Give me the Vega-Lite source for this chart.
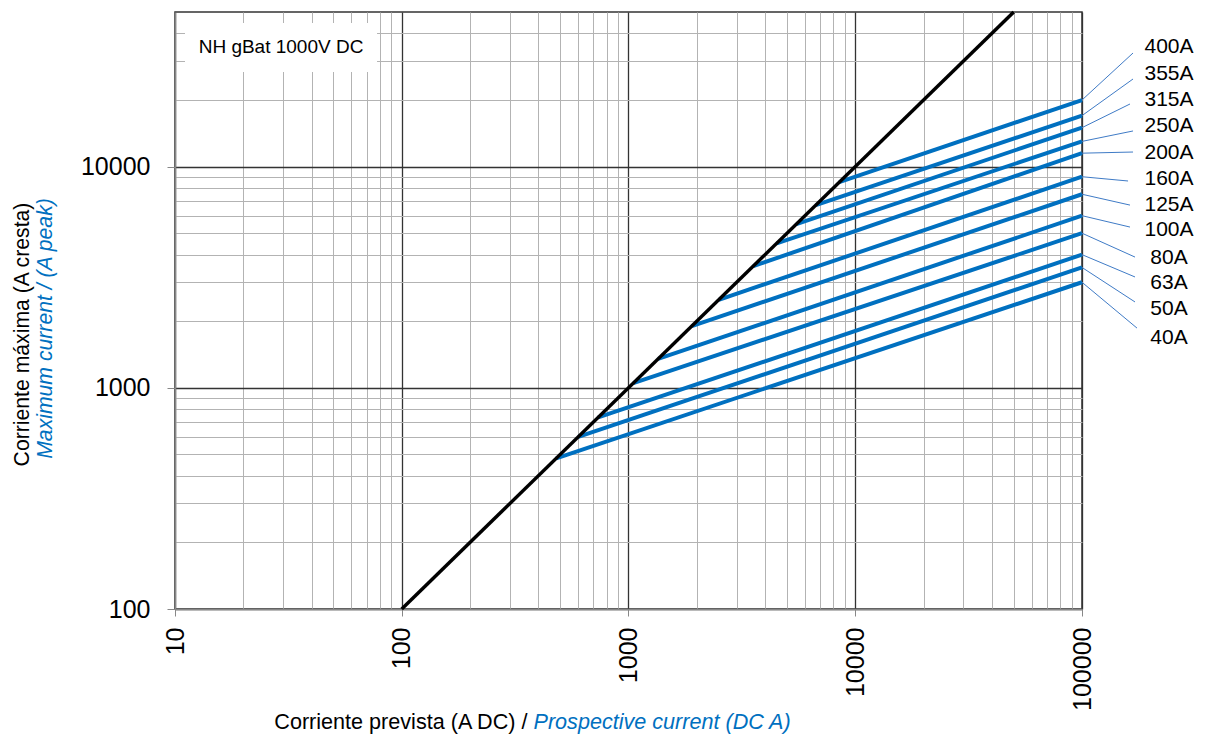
{
  "$schema": "https://vega.github.io/schema/vega-lite/v6.json",
  "width": 907,
  "height": 597,
  "autosize": "none",
  "padding": {"left": 175, "top": 12, "right": 123, "bottom": 127},
  "config": {
    "font": "Liberation Sans",
    "view": {"stroke": "#333333", "strokeWidth": 1.5},
    "axis": {"labelFont": "Liberation Sans", "titleFont": "Liberation Sans"}
  },
  "datasets": {
    "fuses": [
      {"fuse": "400A", "x1": 8500, "x2": 100000, "y2": 20000, "lx": 167900, "ly": 32620, "tx": 241900, "ty": 34720},
      {"fuse": "355A", "x1": 6700, "x2": 100000, "y2": 17000, "lx": 167900, "ly": 24890, "tx": 241900, "ty": 26220},
      {"fuse": "315A", "x1": 5500, "x2": 100000, "y2": 15000, "lx": 162800, "ly": 19190, "tx": 241900, "ty": 20000},
      {"fuse": "250A", "x1": 4500, "x2": 100000, "y2": 13000, "lx": 167900, "ly": 14490, "tx": 241900, "ty": 15260},
      {"fuse": "200A", "x1": 3550, "x2": 100000, "y2": 11500, "lx": 167900, "ly": 11640, "tx": 241900, "ty": 11520},
      {"fuse": "160A", "x1": 2500, "x2": 100000, "y2": 9000, "lx": 159600, "ly": 8610, "tx": 241900, "ty": 8790},
      {"fuse": "125A", "x1": 1900, "x2": 100000, "y2": 7500, "lx": 162800, "ly": 6700, "tx": 241900, "ty": 6700},
      {"fuse": "100A", "x1": 1350, "x2": 100000, "y2": 6000, "lx": 162800, "ly": 5330, "tx": 241900, "ty": 5170},
      {"fuse": "80A", "x1": 1050, "x2": 100000, "y2": 5000, "lx": 171300, "ly": 3900, "tx": 241900, "ty": 3863},
      {"fuse": "63A", "x1": 735, "x2": 100000, "y2": 4000, "lx": 171300, "ly": 3170, "tx": 241900, "ty": 2977},
      {"fuse": "50A", "x1": 600, "x2": 100000, "y2": 3500, "lx": 171300, "ly": 2444, "tx": 241900, "ty": 2271},
      {"fuse": "40A", "x1": 480, "x2": 100000, "y2": 3000, "lx": 174800, "ly": 1862, "tx": 241900, "ty": 1680}
    ],
    "box": [
      {"label": "NH gBat 1000V DC", "bx1": 11.07, "bx2": 77.8, "by1": 26780, "by2": 44600, "tx": 29.35, "ty": 34560}
    ],
    "diag": [
      {"x": 100, "y": 100, "x2": 50000, "y2": 50000}
    ]
  },
  "layer": [
    {
      "layer": [
        {
          "data": {"name": "box"},
          "mark": {"type": "rect", "fill": "white", "stroke": null},
          "encoding": {
            "x": {"field": "bx1", "type": "quantitative", "scale": {"type": "log", "domain": [10, 100000], "nice": false},
              "axis": {
                "orient": "bottom",
                "values": [10,20,30,40,50,60,70,80,90,100,200,300,400,500,600,700,800,900,1000,2000,3000,4000,5000,6000,7000,8000,9000,10000,20000,30000,40000,50000,60000,70000,80000,90000,100000],
                "format": "d",
                "labelExpr": "indexof([10,100,1000,10000,100000], datum.value) >= 0 ? datum.label : ''",
                "labelAngle": 270,
                "labelAlign": "right",
                "labelBaseline": "middle",
                "labelFontSize": 25,
                "labelColor": "#000000",
                "labelPadding": 11,
                "labelOverlap": false,
                "labelFlush": false,
                "labelBound": false,
                "grid": true,
                "gridColor": {"condition": {"test": "indexof([10,100,1000,10000,100000], datum.value) >= 0", "value": "#333333"}, "value": "#b3b3b3"},
                "gridWidth": {"condition": {"test": "indexof([10,100,1000,10000,100000], datum.value) >= 0", "value": 1.3}, "value": 1},
                "ticks": true,
                "tickSize": 7,
                "tickColor": "#888888",
                "tickOpacity": {"condition": {"test": "indexof([10,100,1000,10000,100000], datum.value) >= 0", "value": 1}, "value": 0},
                "domain": true,
                "domainColor": "#888888",
                "domainWidth": 1.5,
                "title": "Corriente prevista (A DC) /",
                "titleFontSize": 21.6,
                "titleFontWeight": "normal",
                "titleColor": "#000000",
                "titleAlign": "right",
                "titleAnchor": null,
                "titleBaseline": "alphabetic",
                "titleX": 352,
                "titleY": 119
              }
            },
            "x2": {"field": "bx2"},
            "y": {"field": "by1", "type": "quantitative", "scale": {"type": "log", "domain": [100, 50000], "nice": false},
              "axis": {
                "orient": "left",
                "values": [100,200,300,400,500,600,700,800,900,1000,2000,3000,4000,5000,6000,7000,8000,9000,10000,20000,30000,40000],
                "format": "d",
                "labelExpr": "indexof([100,1000,10000], datum.value) >= 0 ? datum.label : ''",
                "labelFontSize": 25,
                "labelColor": "#000000",
                "labelPadding": 17,
                "labelOverlap": false,
                "labelFlush": false,
                "labelBound": false,
                "grid": true,
                "gridColor": {"condition": {"test": "indexof([100,1000,10000], datum.value) >= 0", "value": "#333333"}, "value": "#b3b3b3"},
                "gridWidth": {"condition": {"test": "indexof([100,1000,10000], datum.value) >= 0", "value": 1.3}, "value": 1},
                "ticks": true,
                "tickSize": 8,
                "tickColor": "#888888",
                "tickOpacity": {"condition": {"test": "indexof([100,1000,10000], datum.value) >= 0", "value": 1}, "value": 0},
                "domain": true,
                "domainColor": "#888888",
                "domainWidth": 1.5,
                "title": "Corriente máxima (A cresta)",
                "titleFontSize": 21.2,
                "titleFontWeight": "normal",
                "titleColor": "#000000",
                "titleAngle": 270,
                "titleAlign": "center",
                "titleAnchor": null,
                "titleBaseline": "middle",
                "titleX": -153,
                "titleY": 322
              }
            },
            "y2": {"field": "by2"}
          }
        },
        {
          "data": {"name": "box"},
          "mark": {"type": "text", "fontSize": 19, "align": "center", "baseline": "middle", "color": "#000000"},
          "encoding": {
            "x": {"field": "tx", "type": "quantitative"},
            "y": {"field": "ty", "type": "quantitative"},
            "text": {"field": "label"}
          }
        },
        {
          "data": {"name": "fuses"},
          "mark": {"type": "rule", "color": "#0070C0", "strokeWidth": 4, "strokeCap": "butt"},
          "encoding": {
            "x": {"field": "x1", "type": "quantitative"},
            "y": {"field": "x1", "type": "quantitative"},
            "x2": {"field": "x2"},
            "y2": {"field": "y2"}
          }
        },
        {
          "data": {"name": "fuses"},
          "mark": {"type": "rule", "color": "#3f7bc6", "strokeWidth": 1},
          "encoding": {
            "x": {"field": "x2", "type": "quantitative"},
            "y": {"field": "y2", "type": "quantitative"},
            "x2": {"field": "lx"},
            "y2": {"field": "ly"}
          }
        },
        {
          "data": {"name": "fuses"},
          "mark": {"type": "text", "fontSize": 21, "align": "center", "baseline": "middle", "color": "#000000"},
          "encoding": {
            "x": {"field": "tx", "type": "quantitative"},
            "y": {"field": "ty", "type": "quantitative"},
            "text": {"field": "fuse"}
          }
        }
      ]
    },
    {
      "data": {"name": "diag"},
      "mark": {"type": "rule", "color": "#000000", "strokeWidth": 3.5, "strokeCap": "butt"},
      "encoding": {
        "x": {"field": "x", "type": "quantitative", "scale": {"type": "log", "domain": [10, 100000], "nice": false},
          "axis": {
            "orient": "bottom",
            "labels": false, "ticks": false, "domain": false, "grid": false,
            "title": "Prospective current (DC A)",
            "titleFontSize": 21.6,
            "titleFontWeight": "normal",
            "titleFontStyle": "italic",
            "titleColor": "#0070C0",
            "titleAlign": "left",
            "titleAnchor": null,
            "titleBaseline": "alphabetic",
            "titleX": 358,
            "titleY": 119
          }
        },
        "y": {"field": "y", "type": "quantitative", "scale": {"type": "log", "domain": [100, 50000], "nice": false},
          "axis": {
            "orient": "left",
            "labels": false, "ticks": false, "domain": false, "grid": false,
            "title": "Maximum current / (A peak)",
            "titleFontSize": 21.2,
            "titleFontWeight": "normal",
            "titleFontStyle": "italic",
            "titleColor": "#0070C0",
            "titleAngle": 270,
            "titleAlign": "center",
            "titleAnchor": null,
            "titleBaseline": "middle",
            "titleX": -130,
            "titleY": 316
          }
        },
        "x2": {"field": "x2"},
        "y2": {"field": "y2"}
      }
    }
  ],
  "resolve": {"scale": {"x": "independent", "y": "independent"}}
}
